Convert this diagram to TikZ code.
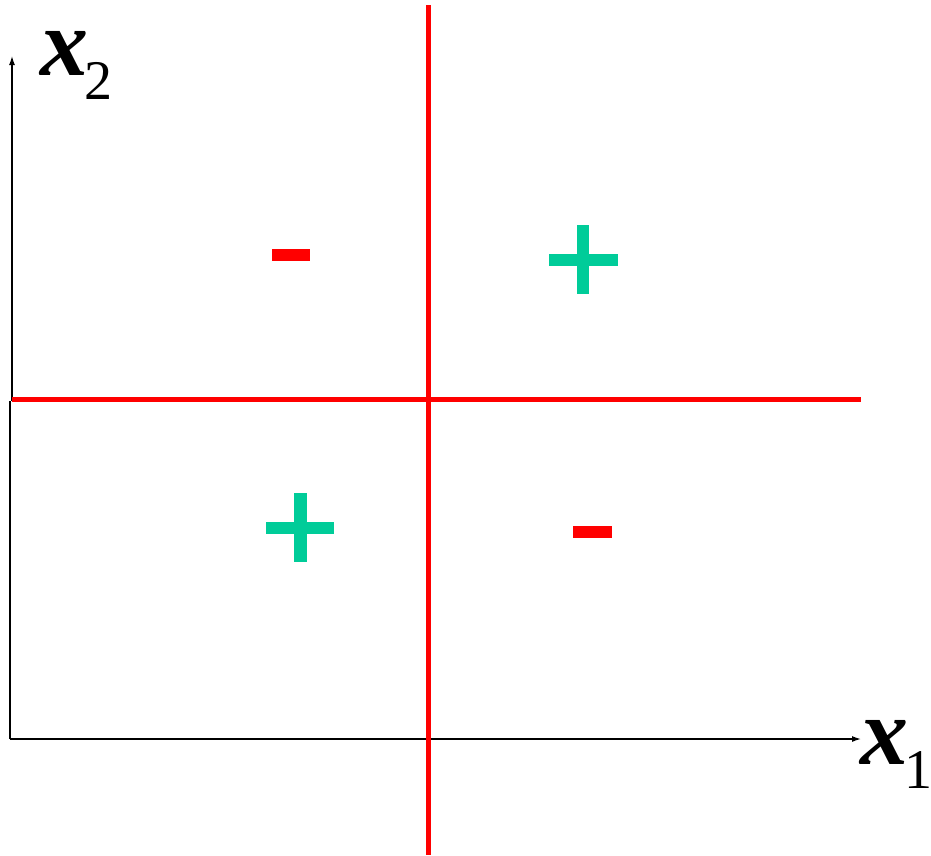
\documentclass[tikz,border=0pt]{standalone}
\usepackage{fontspec}
\newfontfamily\lblfont{Liberation Serif}
\usetikzlibrary{arrows.meta}
\definecolor{signred}{RGB}{255,0,0}
\definecolor{signgreen}{RGB}{0,204,153}
\tikzset{
  axis/.style={line width=1.3pt, -{Latex[length=9pt,width=6pt]}},
  boundary/.style={draw=signred, line width=5pt},
  minussign/.style={fill=signred},
  plussign/.style={fill=signgreen},
  axlabel/.style={inner sep=0pt, anchor=base west, font=\lblfont\fontsize{96}{96}\selectfont}
}
\newcommand{\subnum}[1]{\kern-4pt\raisebox{-24pt}{\fontsize{56}{56}\selectfont #1}}
\begin{document}
\begin{tikzpicture}[x=1pt,y=-1pt]
\useasboundingbox (0,0) rectangle (931,855);
% axes
\coordinate (o) at (10,739);
\coordinate (xend) at (861,739);
\coordinate (jogl) at (10,401);
\coordinate (jogu) at (12,401);
\coordinate (yend) at (12,56);
\draw[line width=1.3pt] (o) -- (jogl);
\draw[axis] (jogu) -- (yend);
\draw[axis] (o) -- (xend);
% boundary lines
\coordinate (hl) at (12,399.5);
\coordinate (hr) at (861,399.5);
\coordinate (vt) at (428.5,5);
\coordinate (vb) at (428.5,855);
\draw[boundary] (hl) -- (hr);
\draw[boundary] (vt) -- (vb);
% signs
\fill[minussign] (272,249) rectangle (310,261);
\fill[minussign] (573,526) rectangle (612,538);
\fill[plussign] (549,254) rectangle (618,266);
\fill[plussign] (577,225) rectangle (589,294);
\fill[plussign] (266,522) rectangle (334,534);
\fill[plussign] (294,493) rectangle (307,562);
% labels
\node[axlabel] (lx2) at (40,75) {\textbf{\textit{x}}\subnum{2}};
\node[axlabel] (lx1) at (860,764) {\textbf{\textit{x}}\subnum{1}};
\end{tikzpicture}
\end{document}
